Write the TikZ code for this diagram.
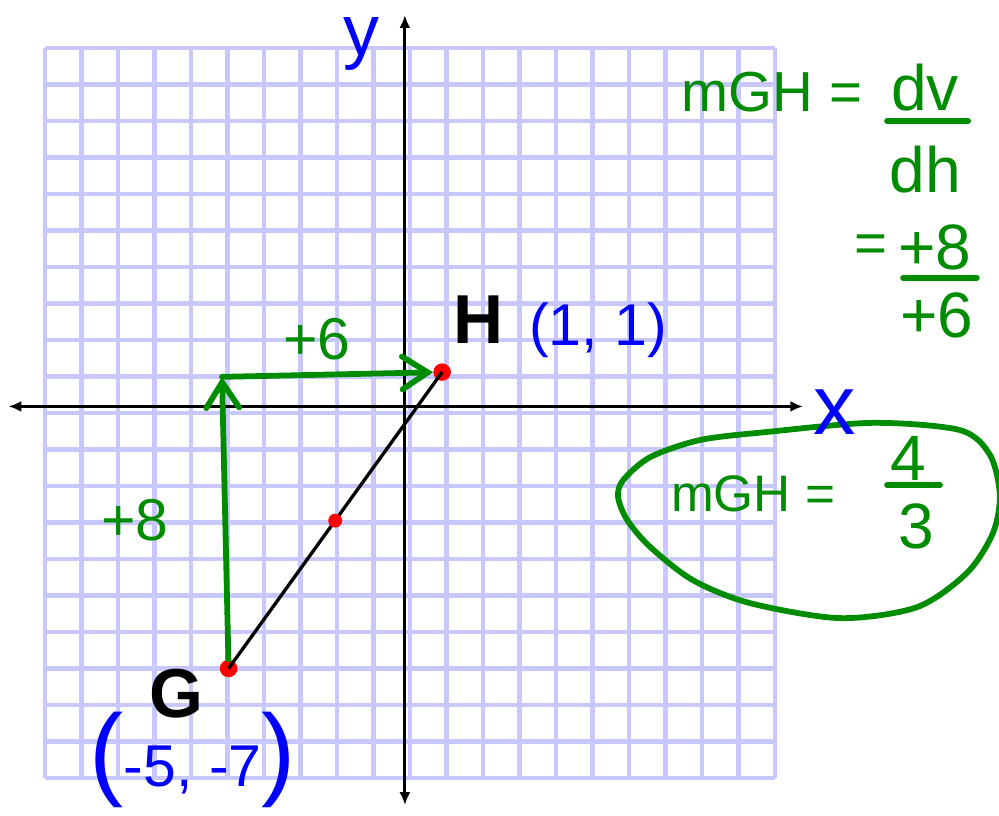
\documentclass[tikz,border=0pt]{standalone}
\usepackage{fontspec}
\setmainfont{Liberation Sans}
\usetikzlibrary{positioning, arrows.meta}

\definecolor{gridblue}{RGB}{200,200,255}
\definecolor{penGreen}{RGB}{0,140,0}
\definecolor{penBlue}{RGB}{0,0,255}
\definecolor{dotRed}{RGB}{255,0,0}

\begin{document}
\begin{tikzpicture}[
  >=Latex,
  gridline/.style={draw=gridblue, line width=3.2pt},
  axis/.style={line width=2.3pt, {Latex[length=3.5mm,width=3mm]}-{Latex[length=3.5mm,width=3mm]}},
  pen/.style={draw=penGreen, line width=4.5pt, line cap=round, line join=round},
  penarr/.style={pen, -{Straight Barb[length=7mm,width=9mm,line cap=round]}},
  greentext/.style={text=penGreen, inner sep=0pt, font=\fontsize{46}{50}\selectfont},
  bluetext/.style={text=penBlue, inner sep=0pt, font=\fontsize{46}{50}\selectfont},
  ptname/.style={inner sep=0pt, font=\bfseries\fontsize{54}{60}\selectfont},
  ptdot/.style={circle, fill=dotRed, inner sep=0pt, minimum size=4.8mm}
]
\useasboundingbox (-11.233,-11.041) rectangle (16.137,11.315);

% graph paper
\draw[gridline] (-10,-10) grid (10,10);

% axes
\coordinate (xl) at (-11.0,0.18);
\coordinate (xr) at (10.77,0.18);
\coordinate (yb) at (-0.14,-10.74);
\coordinate (yt) at (-0.14,10.9);
\draw[axis] (xl) -- (xr);
\draw[axis] (yb) -- (yt);
\node[bluetext, font=\fontsize{56}{60}\selectfont] (ylab) at (-1.32,10.1) {y};

% rise and run
\node[ptdot] (G) at (-4.97,-7.0) {};
\node[ptdot] (H) at (0.88,1.12) {};
\coordinate (corner) at (-5.15,0.99);
\draw[penarr] (G) -- (corner);
\draw[penarr] (corner) -- (H);
\node[greentext] (run) at (-2.55,2.03) {+6};
\node[greentext] (rise) at (-7.53,-2.93) {+8};

% segment GH and its midpoint
\draw[line width=2.6pt] (G.center) -- (H.center);
\node[ptdot, minimum size=3.8mm] (M) at (-2.05,-2.95) {};

\node[ptname] (Glab) at (-6.41,-7.70) {G};
\node[ptname] (Hlab) at (1.89,2.55) {H};
\node[bluetext] (Hxy) at (5.15,2.27) {(1, 1)};
\node[bluetext] (Gxy) at (-5.95,-9.5) {{\fontsize{80}{80}\selectfont(}-5, -7{\fontsize{80}{80}\selectfont)}};

% slope work
\node[greentext, font=\fontsize{44}{48}\selectfont, anchor=base] (mtop) at (9.92,8.25) {mGH =};
\node[greentext, font=\fontsize{50}{54}\selectfont, anchor=base] (dv) at (14.11,8.30) {dv};
\draw[pen] (13.07,8.0) -- (15.29,8.0);
\node[greentext, font=\fontsize{50}{54}\selectfont, anchor=base] (dh) at (14.11,6.03) {dh};
\node[greentext, font=\fontsize{44}{48}\selectfont] (eq) at (12.63,4.50) {=};
\node[greentext, font=\fontsize{50}{54}\selectfont, anchor=base] (rise2) at (14.38,3.92) {+8};
\draw[pen] (13.51,3.70) -- (15.53,3.70);
\node[greentext, font=\fontsize{50}{54}\selectfont, anchor=base] (run2) at (14.44,2.08) {+6};

% answer
\draw[pen] plot[smooth cycle] coordinates {(12.68,-0.27) (9.78,-0.52) (7.95,-0.74) (6.58,-1.21) (5.84,-1.84) (5.70,-2.30) (5.95,-2.93) (6.58,-3.67) (7.75,-4.58) (9.32,-5.21) (11.78,-5.62) (13.89,-5.32) (15.26,-4.38) (15.97,-3.29) (16.16,-2.25) (15.89,-1.15) (15.07,-0.47)};
\node[greentext, font=\fontsize{40}{44}\selectfont, anchor=base] (mbox) at (9.40,-2.71) {mGH =};
\node[greentext, font=\fontsize{50}{54}\selectfont, anchor=base] (four) at (13.64,-1.84) {4};
\draw[pen] (13.07,-1.97) -- (14.52,-1.97);
\node[greentext, font=\fontsize{50}{54}\selectfont, anchor=base] (three) at (13.86,-3.70) {3};

\node[bluetext, font=\fontsize{66}{70}\selectfont] (xlab) at (11.64,0.03) {x};
\end{tikzpicture}
\end{document}
